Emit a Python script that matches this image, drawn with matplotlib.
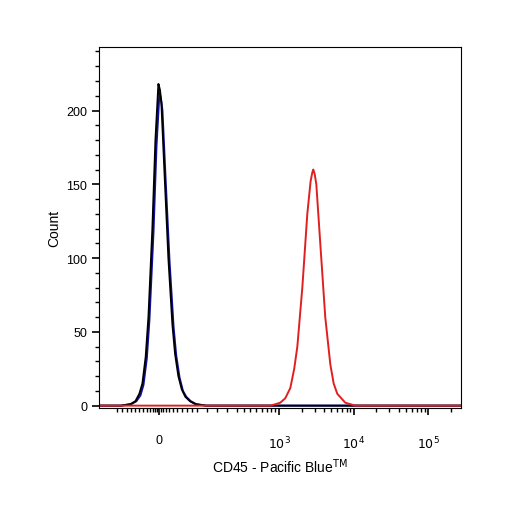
import numpy as np
import matplotlib
matplotlib.use("Agg")
import matplotlib.pyplot as plt

plt.rcParams["font.family"] = ["Liberation Sans", "DejaVu Sans"]

# x in display units: 10^3 -> 3, 10^4 -> 4, 10^5 -> 5, zero at ~1.39
black_x = [0.58, 0.866, 1.0, 1.067, 1.12, 1.161, 1.205, 1.242, 1.295, 1.336, 1.376, 1.396, 1.416, 1.456, 1.510, 1.564, 1.60, 1.644, 1.69, 1.738, 1.80, 1.872, 2.007, 5.44]
black_y = [0, 0, 1, 3, 8, 15, 33, 60, 120, 180, 218, 214, 205, 160, 100, 55, 35, 20, 11, 6, 3, 1, 0, 0]
blue_x = [0.58, 0.88, 1.01, 1.08, 1.135, 1.175, 1.22, 1.255, 1.31, 1.35, 1.39, 1.41, 1.43, 1.47, 1.525, 1.58, 1.615, 1.66, 1.705, 1.75, 1.81, 1.885, 2.02, 5.44]
blue_y = [0, 0, 1, 3, 7, 14, 32, 58, 118, 176, 212, 208, 200, 156, 98, 53, 34, 19, 10, 6, 3, 1, 0, 0]
red_x = [0.58, 2.879, 2.95, 3.013, 3.08, 3.148, 3.20, 3.242, 3.309, 3.376, 3.42, 3.443, 3.456, 3.475, 3.497, 3.550, 3.617, 3.685, 3.73, 3.779, 3.886, 4.020, 5.44]
red_y = [0, 0, 1, 2, 5, 12, 25, 40, 80, 130, 152, 158, 160, 157, 150, 110, 60, 28, 15, 8, 2, 0, 0]

zero_pos = 1.39
major_pos = [zero_pos, 3, 4, 5]
major_labels = ["0", "$10^3$", "$10^4$", "$10^5$"]
minor_px = [117, 122, 127, 131, 135, 139, 143, 147, 150, 153, 155, 157, 161, 163, 166, 169,
            173, 177, 182, 187, 192, 197, 207, 217, 227, 237, 244, 250, 256, 262, 267, 271, 275]

fig = plt.figure(figsize=(5.06, 5.06), dpi=100)
ax = fig.add_axes([0.196, 0.192, 0.715, 0.713])
ax.plot(blue_x, blue_y, color="#1010a0", lw=1.4)
ax.plot(black_x, black_y, color="black", lw=1.4)
ax.plot(red_x, red_y, color="#e02020", lw=1.4)

ax.set_xlim(0.58, 5.44)
ax.set_ylim(-1.5, 243)

ax.set_xticks(major_pos)
ax.set_xticklabels(major_labels, fontsize=9)
minor = [3 + (p - 279) / 74.5 for p in minor_px]
for d in [3, 4]:
    minor += [d + np.log10(k) for k in range(2, 10)]
minor += [5 + np.log10(k) for k in range(2, 4)]
ax.set_xticks([m for m in minor if 0.6 < m < 5.42], minor=True)

ax.set_yticks([0, 50, 100, 150, 200])
ax.set_yticks(range(0, 241, 10), minor=True)
ax.tick_params(axis="both", which="major", direction="out", length=5, width=1.2, labelsize=9)
ax.tick_params(axis="both", which="minor", direction="out", length=3, width=1)
ax.tick_params(axis="x", which="major", pad=14)

ax.set_xlabel("CD45 - Pacific Blue$^{\\mathrm{TM}}$", fontsize=10)
ax.set_ylabel("Count", fontsize=10)

fig.savefig("out.png", dpi=100)
